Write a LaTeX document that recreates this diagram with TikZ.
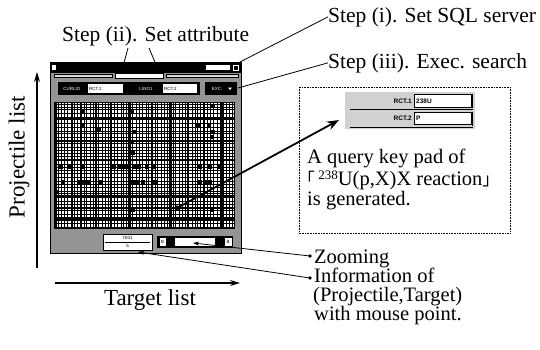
\documentclass[tikz,border=0pt]{standalone}
\usepackage{fontspec}
\setmainfont{Liberation Serif}
\setsansfont{Liberation Sans}
\newfontfamily\cjk{Noto Sans CJK JP}
\usetikzlibrary{arrows.meta}

\tikzset{
  lbl/.style={inner sep=0pt, anchor=base west, font=\fontsize{21.5}{24}\selectfont},
  note/.style={inner sep=0pt, anchor=base west, font=\fontsize{20.5}{22}\selectfont},
  axislbl/.style={inner sep=0pt, font=\fontsize{23}{26}\selectfont},
  guide/.style={line width=0.8pt},
  pointer/.style={line width=0.8pt, -{Stealth[length=6pt,width=4pt]}},
  axisarrow/.style={line width=1.3pt, -{Stealth[length=10pt,width=6pt]}},
  bigarrow/.style={line width=1.8pt, -{Stealth[length=12pt,width=9pt]}},
  dither/.style={fill=black!42},
  tinytxt/.style={inner sep=0pt, font=\sffamily\fontsize{4.5}{5}\selectfont},
  smalltxt/.style={inner sep=0pt, font=\sffamily\bfseries\fontsize{6.5}{7}\selectfont},
  field/.style={draw, line width=0.4pt, fill=white},
}
\newcommand\cornerbr[1]{\smash{\cjk\fontsize{17}{17}\selectfont #1}}
\newcommand\massno[1]{\raisebox{0.3em}{\fontsize{13}{13}\selectfont #1}}

\begin{document}
\begin{tikzpicture}[x=1pt,y=-1pt]
\useasboundingbox (0,0) rectangle (540,349);

% ---------- search window ----------
\fill[dither] (50,62) rectangle (241,253);
\draw[line width=0.5pt] (50,62) rectangle (241,253);
% title bar
\fill (50,62) rectangle (241,72.5);
\fill[white] (52,64.5) rectangle (56,69.5);
\fill[white] (206,64.5) rectangle (230,70);
\draw[white, line width=0.6pt] (233,64.8) rectangle (238,69.8);
% tab strip
\draw[line width=0.4pt, fill=black!15] (54,73.8) rectangle (112,77.6);
\draw[line width=0.4pt, fill=white] (115,73.2) rectangle (163,78);
\draw[line width=0.4pt, fill=black!15] (166,73.8) rectangle (238,77.6);
\coordinate (tabL) at (121,74);
\coordinate (tabR) at (160,74);
% attribute row
\fill (58,82) rectangle (200,95);
\node[tinytxt, text=white] at (72,88.5) {CURLIO};
\draw[field] (87,83.5) rectangle (123,93.5);
\node[tinytxt, anchor=west] at (89,88.5) {RCT.1};
\node[tinytxt, text=white] at (146,88.5) {LINO1};
\draw[field] (162,83.5) rectangle (197,93.5);
\node[tinytxt, anchor=west] at (164,88.5) {RCT.2};
% execute button
\fill (205,82) rectangle (237,95);
\node[tinytxt, text=white] at (217,88.5) {EXC.};
\fill[white] (228,87.5) -- (232,87.5) -- (230,90) -- cycle;
\coordinate (closebtn) at (238,63);
\coordinate (execbtn) at (238,88);

% ---------- projectile / target grid ----------
\fill[white] (54,102) rectangle (234,228);
\begin{scope}
\clip (54,102) rectangle (234,228);
\pgfmathsetseed{11}
\foreach \i in {0,...,57} {
  \pgfmathsetmacro\xx{55+\i*3.1+rnd*1.4}
  \pgfmathsetmacro\ww{0.45+rnd*0.85}
  \draw[line width=\ww pt] (\xx,102) -- (\xx,228);
}
\foreach \i in {0,...,37} {
  \pgfmathsetmacro\yy{103+\i*3.35+rnd*1.2}
  \pgfmathsetmacro\ww{0.4+rnd*0.7}
  \draw[line width=\ww pt] (54,\yy) -- (234,\yy);
}
\foreach \xx in {72,96,111,129,152,171,188,204,222}
  \draw[line width=1.2pt] (\xx,102) -- (\xx,228);
\foreach \yy in {118,141,160,196,219}
  \draw[line width=1.1pt] (54,\yy) -- (234,\yy);
\draw[line width=1.6pt] (56,208) -- (234,208);
% occupied cells
\foreach \p in {(83,112),(132,112),(213,106),(82,125),(99,130),(135,132),
  (132,142),(133,153),(198,125),(209,125),(213,132),(212,137),
  (61,167),(70,167),(83,167),(114,167),(119,167),(124,167),(129,167),
  (134,167),(139,167),(147,167),(153,167),(200,167),(210,167),(219,167),
  (63,182),(80,182),(84,182),(88,182),(100,182),(130,182),(134,182),
  (138,182),(143,182),(155,182),(200,182),(205,182),(210,182),(57,192),
  (133,210),(212,210),(222,223)}
  \fill \p ++(-1.8,-1.8) rectangle ++(3.6,3.6);
\end{scope}
\draw[line width=0.5pt] (54,102) rectangle (234,228);
\fill (177,208) circle (2.6) coordinate (hit);

% bottom status row
\draw[field] (103,234) rectangle (152,250);
\draw[line width=0.4pt] (105,242) -- (150,242);
\node[tinytxt] at (127.5,238) {7001};
\node[tinytxt] at (127.5,246) {5};
\fill (157,236) rectangle (233,248);
\draw[field] (159,237.5) rectangle (166.5,246.5);
\node[tinytxt] at (162.7,242) {B};
\fill[white] (175,238) rectangle (215,246);
\draw[field] (224.5,237.5) rectangle (232,246.5);
\node[tinytxt] at (228.2,242) {B};
\coordinate (zoomctl) at (193,243);
\coordinate (infobox) at (138,252);

% ---------- axes ----------
\coordinate (pbot) at (37,268);
\coordinate (ptop) at (37,72);
\draw[axisarrow] (pbot) -- (ptop);
\node[axislbl, rotate=90] (plist) at (19,157) {Projectile list};
\coordinate (tleft) at (55,283);
\coordinate (tright) at (240,283);
\draw[axisarrow] (tleft) -- (tright);
\node[axislbl, anchor=base] (tlist) at (150,305) {Target list};

% ---------- step labels ----------
\node[lbl] (s1) at (328,22) {Step (i). Set SQL server};
\node[lbl] (s2) at (62,41) {Step (ii). Set attribute};
\node[lbl] (s3) at (328,68) {Step (iii). Exec. search};
\coordinate (s2a) at (128,48);
\coordinate (s2b) at (149,48);
\draw[guide] (s1.west) -- (closebtn);
\draw[guide] (s3.west) -- (execbtn);
\draw[guide] (s2a) -- (tabL);
\draw[guide] (s2b) -- (tabR);

% ---------- generated query pad ----------
\draw[line width=0.6pt, densely dotted] (299,87) rectangle (510,233);
\fill[black!18] (345,92) rectangle (475,129);
\node[smalltxt, anchor=east] at (412,101) {RCT.1};
\draw[field] (414,94.5) rectangle (471,107);
\node[smalltxt, anchor=west] at (416,101) {238U};
\draw[line width=1pt] (472,94) -- (472,108);
\draw[line width=0.8pt] (350,109) -- (473,109);
\node[smalltxt, anchor=east] at (412,118) {RCT.2};
\draw[field] (414,112) rectangle (471,124.5);
\node[smalltxt, anchor=west] at (416,118) {P};
\draw[line width=1pt] (472,111.5) -- (472,125.5);
\draw[line width=0.8pt] (350,127) -- (473,127);
\coordinate (pad) at (339,120);
\draw[bigarrow] (hit) -- (pad);
\node[note] (q1) at (307,163) {A query key pad of};
\node[note] (q2) at (307,185.5) {\kern-0.45em\cornerbr{「}\,\massno{238}U(p,X)X reaction\cornerbr{」}};
\node[note] (q3) at (307,205) {is generated.};

% ---------- status callouts ----------
\fill (310,256) circle (1.8) coordinate (bz);
\fill (310,278) circle (1.8) coordinate (bi);
\draw[pointer] (bz) -- (zoomctl);
\draw[pointer] (bi) -- (infobox);
\node[note] (zl) at (314,263) {Zooming};
\node[note] (i1) at (314,282) {Information of};
\node[note] (i2) at (313,301) {(Projectile,Target)};
\node[note] (i3) at (314,320) {with mouse point.};
\end{tikzpicture}
\end{document}
